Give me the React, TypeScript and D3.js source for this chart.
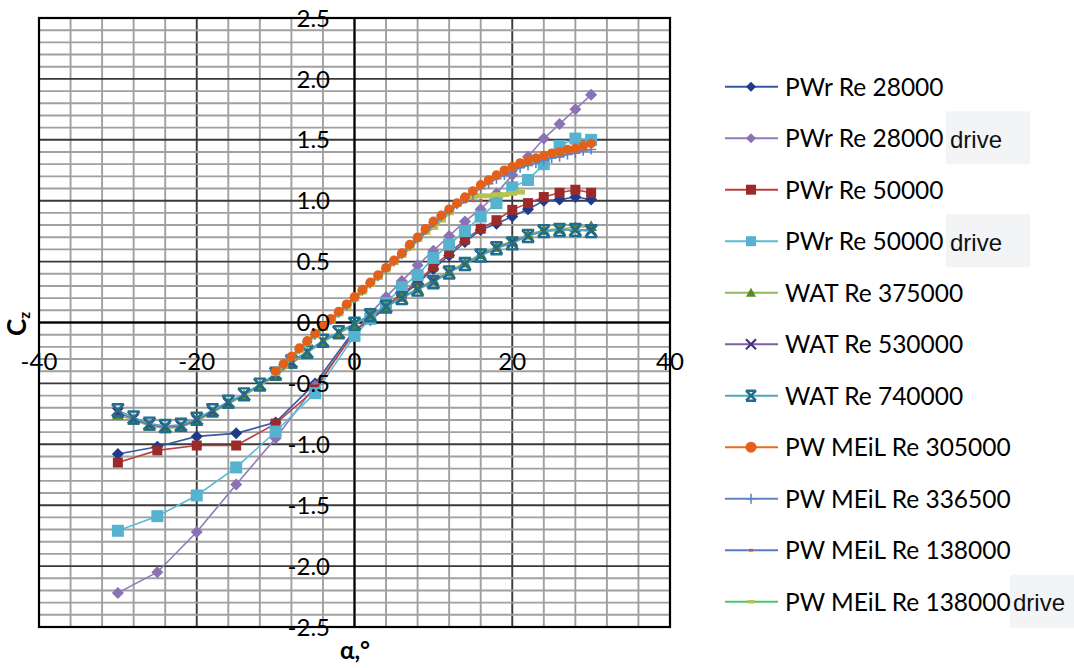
import React from "react";
import * as d3 from "d3";

// ---------- DATA ----------
const alphaPWr = [-30, -25, -20, -15, -10, -5, 0, 2, 4, 6, 8, 10, 12, 14, 16, 18, 20, 22, 24, 26, 28, 30];
const czPWr28 = [-1.08, -1.02, -0.935, -0.91, -0.82, -0.5, -0.06, 0.02, 0.12, 0.22, 0.32, 0.44, 0.55, 0.66, 0.76, 0.81, 0.87, 0.93, 1.0, 1.01, 1.03, 1.01];
const czPWr28drive = [-2.22, -2.05, -1.72, -1.33, -0.95, -0.52, -0.09, 0.075, 0.21, 0.34, 0.47, 0.59, 0.71, 0.83, 0.93, 1.06, 1.21, 1.36, 1.51, 1.63, 1.75, 1.87];
const czPWr50 = [-1.15, -1.05, -1.01, -1.01, -0.83, -0.55, -0.07, 0.03, 0.135, 0.24, 0.33, 0.46, 0.57, 0.68, 0.77, 0.84, 0.925, 0.98, 1.03, 1.065, 1.09, 1.065];
const czPWr50drive = [-1.71, -1.59, -1.42, -1.19, -0.895, -0.58, -0.11, 0.03, 0.16, 0.29, 0.39, 0.53, 0.64, 0.75, 0.87, 0.98, 1.11, 1.17, 1.3, 1.45, 1.51, 1.5];

const alphaWAT = [-30, -28, -26, -24, -22, -20, -18, -16, -14, -12, -10, -8, -6, -4, -2, 0, 2, 4, 6, 8, 10, 12, 14, 16, 18, 20, 22, 24, 26, 28, 30];
const czWAT375 = [-0.76, -0.8, -0.85, -0.87, -0.86, -0.81, -0.74, -0.67, -0.6, -0.52, -0.44, -0.34, -0.25, -0.16, -0.09, -0.02, 0.06, 0.13, 0.21, 0.28, 0.35, 0.42, 0.49, 0.56, 0.62, 0.67, 0.72, 0.76, 0.77, 0.78, 0.79];
const czWAT530 = [-0.74, -0.79, -0.84, -0.86, -0.85, -0.8, -0.73, -0.66, -0.59, -0.51, -0.43, -0.33, -0.24, -0.15, -0.08, -0.01, 0.06, 0.13, 0.2, 0.27, 0.34, 0.41, 0.48, 0.55, 0.61, 0.66, 0.71, 0.75, 0.76, 0.76, 0.76];
const czWAT740 = [-0.72, -0.78, -0.83, -0.85, -0.84, -0.79, -0.72, -0.65, -0.59, -0.51, -0.42, -0.32, -0.24, -0.15, -0.08, -0.01, 0.06, 0.13, 0.2, 0.27, 0.33, 0.41, 0.48, 0.55, 0.61, 0.65, 0.71, 0.75, 0.76, 0.76, 0.75];

const alphaMEiL = [-10, -9, -8, -7, -6, -5, -4, -3, -2, -1, 0, 1, 2, 3, 4, 5, 6, 7, 8, 9, 10, 11, 12, 13, 14, 15, 16, 17, 18, 19, 20, 21, 22, 23, 24, 25, 26, 27, 28, 29, 30];
const czMEiL305 = [-0.4, -0.34, -0.28, -0.21, -0.15, -0.09, -0.03, 0.03, 0.09, 0.15, 0.21, 0.27, 0.33, 0.39, 0.45, 0.51, 0.57, 0.64, 0.7, 0.77, 0.83, 0.88, 0.93, 0.98, 1.03, 1.08, 1.13, 1.17, 1.21, 1.25, 1.28, 1.31, 1.33, 1.35, 1.37, 1.39, 1.4, 1.42, 1.43, 1.45, 1.47];
const czMEiL336 = [-0.41, -0.35, -0.29, -0.22, -0.16, -0.1, -0.04, 0.02, 0.08, 0.14, 0.2, 0.26, 0.32, 0.38, 0.44, 0.5, 0.56, 0.63, 0.69, 0.76, 0.82, 0.87, 0.92, 0.97, 1.02, 1.06, 1.1, 1.14, 1.18, 1.21, 1.24, 1.27, 1.29, 1.31, 1.33, 1.35, 1.36, 1.38, 1.39, 1.41, 1.42];
const alphaMEiL138 = [-10, -9, -8, -7, -6, -5, -4, -3, -2, -1, 0, 1, 2, 3, 4, 5, 6, 7, 8, 9, 10, 11, 12, 13, 14, 15, 16];
const czMEiL138 = [-0.4, -0.34, -0.28, -0.22, -0.16, -0.1, -0.04, 0.02, 0.08, 0.14, 0.2, 0.26, 0.32, 0.38, 0.44, 0.5, 0.56, 0.62, 0.68, 0.74, 0.8, 0.86, 0.91, 0.96, 0.99, 1.0, 1.0];
const alphaMEiL138drive = [-10, -9, -8, -7, -6, -5, -4, -3, -2, -1, 0, 1, 2, 3, 4, 5, 6, 7, 8, 9, 10, 11, 12, 13, 14, 15, 16, 17, 18, 19, 20, 21];
const czMEiL138drive = [-0.42, -0.36, -0.29, -0.23, -0.17, -0.11, -0.05, 0.01, 0.07, 0.13, 0.19, 0.25, 0.31, 0.37, 0.43, 0.49, 0.55, 0.61, 0.68, 0.74, 0.78, 0.84, 0.9, 0.97, 1.02, 1.03, 1.04, 1.04, 1.05, 1.05, 1.06, 1.07];

const xTicks = [-40, -20, 0, 20, 40];
const yTicks = [2.5, 2.0, 1.5, 1.0, 0.5, 0.0, -0.5, -1.0, -1.5, -2.0, -2.5];

type Marker = "diamond" | "square" | "triangle" | "x" | "star" | "circle" | "plus" | "dot" | "dash";
interface Series {
  name: string;
  extra?: string;
  xs: number[];
  ys: number[];
  line: string;
  lineW: number;
  marker: Marker;
  mColor: string;
  mSize: number;
}

const seriesList: Series[] = [
  { name: "PWr Re 28000", xs: alphaPWr, ys: czPWr28, line: "#3558a6", lineW: 1.6, marker: "diamond", mColor: "#1f3a8a", mSize: 6 },
  { name: "PWr Re 28000", extra: "drive", xs: alphaPWr, ys: czPWr28drive, line: "#8f7bb8", lineW: 1.6, marker: "diamond", mColor: "#8a72b4", mSize: 6 },
  { name: "PWr Re 50000", xs: alphaPWr, ys: czPWr50, line: "#b8413e", lineW: 1.6, marker: "square", mColor: "#9b2a2a", mSize: 5 },
  { name: "PWr Re 50000", extra: "drive", xs: alphaPWr, ys: czPWr50drive, line: "#5bbad6", lineW: 1.6, marker: "square", mColor: "#56b3d0", mSize: 6 },
  { name: "WAT Re 375000", xs: alphaWAT, ys: czWAT375, line: "#8fb85a", lineW: 1.6, marker: "triangle", mColor: "#5a8a22", mSize: 6 },
  { name: "WAT Re 530000", xs: alphaWAT, ys: czWAT530, line: "#7c62a6", lineW: 1.6, marker: "x", mColor: "#4a2f7a", mSize: 5 },
  { name: "WAT Re 740000", xs: alphaWAT, ys: czWAT740, line: "#4aa8c2", lineW: 1.6, marker: "star", mColor: "#1f6e8c", mSize: 6 },
  { name: "PW MEiL Re 305000", xs: alphaMEiL, ys: czMEiL305, line: "#ec6a1e", lineW: 2, marker: "circle", mColor: "#e2601a", mSize: 4.8 },
  { name: "PW MEiL Re 336500", xs: alphaMEiL, ys: czMEiL336, line: "#5b85c6", lineW: 1.6, marker: "plus", mColor: "#5b85c6", mSize: 5 },
  { name: "PW MEiL Re 138000", xs: alphaMEiL138, ys: czMEiL138, line: "#4f7fc4", lineW: 1.6, marker: "dot", mColor: "#d0504d", mSize: 2 },
  { name: "PW MEiL Re 138000", extra: "drive", xs: alphaMEiL138drive, ys: czMEiL138drive, line: "#8cc65a", lineW: 3, marker: "dash", mColor: "#b8c24e", mSize: 3 },
];

// draw order: green drive beneath the orange circles
const drawOrder = [0, 1, 2, 3, 4, 5, 6, 10, 9, 8, 7];

// ---------- LAYOUT ----------
const W = 1074;
const H = 668;
const left = 39, right = 670, top = 18, bottom = 627;
const x = d3.scaleLinear().domain([-40, 40]).range([left, right]);
const y = d3.scaleLinear().domain([-2.5, 2.5]).range([bottom, top]);

const FONT = "Lato, 'Open Sans', sans-serif";

function MarkerShape({ m, cx, cy, color, s }: { m: Marker; cx: number; cy: number; color: string; s: number }) {
  switch (m) {
    case "diamond":
      return <path d={`M${cx},${cy - s}L${cx + s},${cy}L${cx},${cy + s}L${cx - s},${cy}Z`} fill={color} />;
    case "square":
      return <rect x={cx - s} y={cy - s} width={2 * s} height={2 * s} fill={color} />;
    case "triangle":
      return <path d={`M${cx},${cy - s}L${cx + s},${cy + s * 0.8}L${cx - s},${cy + s * 0.8}Z`} fill={color} />;
    case "x":
      return (
        <path d={`M${cx - s},${cy - s}L${cx + s},${cy + s}M${cx - s},${cy + s}L${cx + s},${cy - s}`} stroke={color} strokeWidth={2.2} />
      );
    case "star":
      return (
        <path
          d={`M${cx - s},${cy - s}L${cx + s},${cy + s}M${cx - s},${cy + s}L${cx + s},${cy - s}M${cx - s},${cy - s}L${cx + s},${cy - s}M${cx - s},${cy + s}L${cx + s},${cy + s}`}
          stroke={color}
          strokeWidth={2.4}
        />
      );
    case "circle":
      return <circle cx={cx} cy={cy} r={s} fill={color} />;
    case "plus":
      return <path d={`M${cx - s},${cy}L${cx + s},${cy}M${cx},${cy - s}L${cx},${cy + s}`} stroke={color} strokeWidth={1.6} />;
    case "dot":
      return <rect x={cx - s} y={cy - s * 0.7} width={2 * s} height={1.4 * s} fill={color} />;
    case "dash":
      return <rect x={cx - s * 1.6} y={cy - s * 0.8} width={3.2 * s} height={1.6 * s} fill={color} />;
  }
  return null;
}

export default function App() {
  const minorX = d3.range(-40, 40.001, 4);
  const minorY = d3.range(-25, 26, 1).map((v) => v / 10);
  const lineGen = d3
    .line<[number, number]>()
    .x((d) => x(d[0]))
    .y((d) => y(d[1]));

  const legendX0 = 725;
  const legendY0 = 86.7;
  const legendStep = 51.5;

  const fmtY = (v: number) => (Math.abs(v) < 1e-9 ? "0.0" : v.toFixed(1));

  return (
    <svg width={W} height={H} style={{ position: "absolute", left: 0, top: 0, background: "#fff" }}>
      <rect x={0} y={0} width={W} height={H} fill="#fff" />
      {/* grid */}
      {minorX.map((v) => (
        <line key={"vx" + v} x1={x(v)} x2={x(v)} y1={top} y2={bottom} stroke={v % 20 === 0 ? "#3a3a3a" : "#a0a0a0"} strokeWidth={1.9} />
      ))}
      {minorY.map((v, i) => (
        <line
          key={"hy" + i}
          x1={left}
          x2={right}
          y1={y(v)}
          y2={y(v)}
          stroke={Math.round(v * 10) % 5 === 0 ? "#3a3a3a" : "#a0a0a0"}
          strokeWidth={1.9}
        />
      ))}
      {/* axes */}
      <line x1={x(0)} x2={x(0)} y1={top} y2={bottom} stroke="#000" strokeWidth={2} />
      <line x1={left} x2={right} y1={y(0)} y2={y(0)} stroke="#000" strokeWidth={2} />
      <rect x={left} y={top} width={right - left} height={bottom - top} fill="none" stroke="#000" strokeWidth={2.2} />

      {/* series */}
      {drawOrder.map((idx) => {
        const s = seriesList[idx];
        const pts: [number, number][] = s.xs.map((a, i) => [a, s.ys[i]]);
        return (
          <g key={"s" + idx}>
            <path d={lineGen(pts) || ""} fill="none" stroke={s.line} strokeWidth={s.lineW} />
            {pts.map((p, i) => (
              <MarkerShape key={i} m={s.marker} cx={x(p[0])} cy={y(p[1])} color={s.mColor} s={s.mSize} />
            ))}
          </g>
        );
      })}

      {/* tick labels */}
      {yTicks.map((v) => (
        <text key={"yt" + v} x={330} y={y(v)} dy="0.36em" textAnchor="end" fontFamily={FONT} fontSize={24} fill="#000">
          {fmtY(v)}
        </text>
      ))}
      {xTicks.map((v) => (
        <text key={"xt" + v} x={x(v)} y={y(0) + 39} dy="0.36em" textAnchor="middle" fontFamily={FONT} fontSize={24} fill="#000">
          {String(v)}
        </text>
      ))}

      {/* axis titles */}
      <text x={355} y={659} textAnchor="middle" fontFamily={FONT} fontWeight="bold" fontSize={24} fill="#000">
        α,°
      </text>
      <text transform="translate(26,324) rotate(-90)" textAnchor="middle" fontFamily={FONT} fontWeight="bold" fontSize={26} fill="#000">
        C<tspan fontSize={15} dy={4}>z</tspan>
      </text>

      {/* legend */}
      {seriesList.map((s, i) => {
        const cy = legendY0 + i * legendStep;
        const mx = legendX0 + 26;
        const isLast = s.marker === "dash";
        return (
          <g key={"lg" + i}>
            {s.extra && (
              <rect x={isLast ? 1010 : 946} y={cy - 27} width={isLast ? 64 : 84} height={53} fill="#f3f4f6" />
            )}
            <line x1={legendX0} x2={legendX0 + 53} y1={cy} y2={cy} stroke={isLast ? "#4cc46c" : s.line} strokeWidth={2} />
            <MarkerShape
              m={s.marker}
              cx={mx}
              cy={cy}
              color={s.mColor}
              s={s.marker === "circle" ? 5.5 : s.marker === "dot" ? 2 : isLast ? 2.2 : 5}
            />
            <text x={785} y={cy} dy="0.36em" fontFamily={FONT} fontSize={24.5} fill="#000">
              {s.name}
            </text>
            {s.extra && (
              <text
                x={isLast ? 1013 : 950}
                y={cy}
                dy="0.4em"
                fontFamily="'Liberation Sans', Arial, sans-serif"
                fontSize={24}
                fill="#111"
              >
                {s.extra}
              </text>
            )}
          </g>
        );
      })}
    </svg>
  );
}
